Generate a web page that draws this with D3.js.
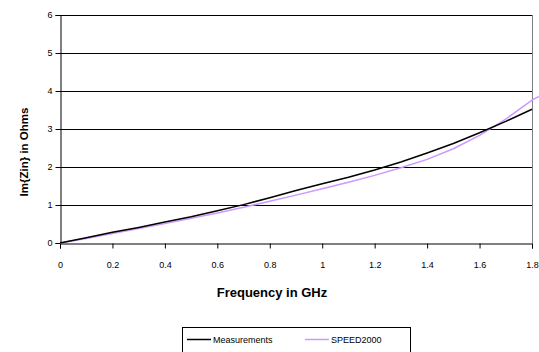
<!DOCTYPE html>
<html>
<head>
<meta charset="utf-8">
<script src="https://cdn.jsdelivr.net/npm/d3@7"></script>
<style>
  body { margin: 0; background: #fff; }
  svg { display: block; font-family: "Liberation Sans", Arial, sans-serif; }
</style>
</head>
<body>
<svg id="chart" width="539" height="352"></svg>
<script>
// Frequency in GHz
const freqs = [0, 0.1, 0.2, 0.3, 0.4, 0.5, 0.6, 0.7, 0.8, 0.9, 1.0, 1.1, 1.2, 1.3, 1.4, 1.5, 1.6, 1.7, 1.8];
const measurements = [0, 0.14, 0.28, 0.41, 0.55, 0.69, 0.85, 1.01, 1.19, 1.38, 1.56, 1.73, 1.92, 2.13, 2.37, 2.62, 2.90, 3.20, 3.52];
const speedFreqs = [0, 0.1, 0.2, 0.3, 0.4, 0.5, 0.6, 0.7, 0.8, 0.9, 1.0, 1.1, 1.2, 1.3, 1.4, 1.5, 1.6, 1.7, 1.8, 1.83];
const speed2000 = [0, 0.12, 0.25, 0.38, 0.51, 0.65, 0.79, 0.94, 1.10, 1.26, 1.43, 1.60, 1.78, 1.98, 2.20, 2.48, 2.83, 3.26, 3.76, 3.87];
const xTicks = [0, 0.2, 0.4, 0.6, 0.8, 1, 1.2, 1.4, 1.6, 1.8];
const yTicks = [0, 1, 2, 3, 4, 5, 6];

const svg = d3.select("#chart");
const plot = { left: 60, right: 532, top: 15, bottom: 243 };

const x = d3.scaleLinear().domain([0, 1.8]).range([plot.left, plot.right]);
const y = d3.scaleLinear().domain([0, 6]).range([plot.bottom, plot.top]);

// gridlines
svg.append("g")
  .selectAll("line")
  .data(yTicks.slice(1))
  .join("line")
  .attr("x1", plot.left).attr("x2", plot.right)
  .attr("y1", d => Math.round(y(d)) + 0.5)
  .attr("y2", d => Math.round(y(d)) + 0.5)
  .attr("stroke", "#000")
  .attr("stroke-width", 1);

// right border
svg.append("line")
  .attr("x1", plot.right + 0.5).attr("x2", plot.right + 0.5)
  .attr("y1", plot.top).attr("y2", plot.bottom)
  .attr("stroke", "#808080");

// axes
const xAxis = svg.append("g")
  .attr("transform", `translate(0,${plot.bottom + 0.5})`)
  .call(d3.axisBottom(x).tickValues(xTicks).tickSize(5).tickPadding(13).tickFormat(d3.format("")));
const yAxis = svg.append("g")
  .attr("transform", `translate(${plot.left + 0.5},0)`)
  .call(d3.axisLeft(y).tickValues(yTicks).tickSize(5).tickPadding(3).tickFormat(d3.format("d")));

[xAxis, yAxis].forEach(a => {
  a.select(".domain").attr("stroke", "#000");
  a.selectAll(".tick line").attr("stroke", "#000");
  a.selectAll("text").attr("font-size", 9).attr("fill", "#000")
    .attr("font-family", "'Liberation Sans', Arial, sans-serif");
});

// series
const line = d3.line().x(d => x(d[0])).y(d => y(d[1]));

svg.append("path")
  .datum(speedFreqs.map((f, i) => [f, speed2000[i]]))
  .attr("fill", "none")
  .attr("stroke", "#cc99ff")
  .attr("stroke-width", 1.5)
  .attr("d", line);

svg.append("path")
  .datum(freqs.map((f, i) => [f, measurements[i]]))
  .attr("fill", "none")
  .attr("stroke", "#000")
  .attr("stroke-width", 1.5)
  .attr("d", line);

// axis titles
svg.append("text")
  .attr("x", 272).attr("y", 297)
  .attr("text-anchor", "middle")
  .attr("font-size", 13)
  .attr("font-weight", "bold")
  .text("Frequency in GHz");

svg.append("text")
  .attr("transform", "translate(28,152) rotate(-90)")
  .attr("text-anchor", "middle")
  .attr("font-size", 11.5)
  .attr("font-weight", "bold")
  .text("Im{Zin} in Ohms");

// legend
const legend = svg.append("g");
legend.append("rect")
  .attr("x", 182.5).attr("y", 327.5)
  .attr("width", 228).attr("height", 40)
  .attr("fill", "none")
  .attr("stroke", "#000");

const items = [
  { name: "Measurements", color: "#000", x0: 187 },
  { name: "SPEED2000", color: "#cc99ff", x0: 305 }
];
items.forEach(it => {
  legend.append("line")
    .attr("x1", it.x0).attr("x2", it.x0 + 24)
    .attr("y1", 339.5).attr("y2", 339.5)
    .attr("stroke", it.color)
    .attr("stroke-width", 1.5);
  legend.append("text")
    .attr("x", it.x0 + 26).attr("y", 342.5)
    .attr("font-size", 9)
    .text(it.name);
});
</script>
</body>
</html>
